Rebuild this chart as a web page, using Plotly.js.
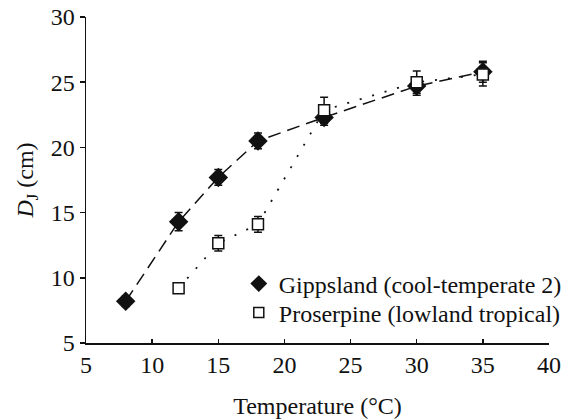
<!DOCTYPE html>
<html><head><meta charset="utf-8">
<script src="https://cdn.plot.ly/plotly-3.0.1.min.js"></script>
<style>html,body{margin:0;padding:0;background:#fff}#chart{width:571px;height:419px}</style>
</head><body><div id="chart"></div>
<script>
const gippX = [8, 12, 15, 18, 23, 30, 35];
const gippY = [8.2, 14.3, 17.7, 20.5, 22.3, 24.7, 25.8];
const gippErr = [0.4, 0.7, 0.6, 0.6, 0.6, 0.7, 0.8];
const prosX = [12, 15, 18, 23, 30, 35];
const prosY = [9.2, 12.65, 14.1, 22.85, 25.0, 25.6];
const prosErr = [0.3, 0.6, 0.6, 1.0, 0.85, 0.9];
const gippName = 'Gippsland (cool-temperate 2)';
const prosName = 'Proserpine (lowland tropical)';

const FONT = 'Liberation Serif, Times New Roman, serif';
const FS = 24;
const traces = [
  {x: gippX, y: gippY, type: 'scatter', mode: 'lines+markers', showlegend: false,
   line: {color: '#111', width: 1.5, dash: '13px,7px'},
   marker: {symbol: 'diamond', size: 15, color: '#111'},
   error_y: {type: 'data', array: gippErr, visible: true, color: '#111', thickness: 1.5, width: 4}},
  {x: prosX, y: prosY, type: 'scatter', mode: 'lines+markers', showlegend: false,
   line: {color: '#111', width: 1.8, dash: '2px,11px'},
   marker: {symbol: 'square', size: 11, color: '#fff', line: {color: '#111', width: 1.5}},
   error_y: {type: 'data', array: prosErr, visible: true, color: '#111', thickness: 1.5, width: 4}},
  {x: [null], y: [null], type: 'scatter', mode: 'markers', name: gippName, legend: 'legend',
   marker: {symbol: 'diamond', size: 13, color: '#111'}},
  {x: [null], y: [null], type: 'scatter', mode: 'markers', name: prosName, legend: 'legend2',
   marker: {symbol: 'square', size: 10, color: '#fff', line: {color: '#111', width: 1.5}}}
];
const legBase = {xanchor: 'left', yanchor: 'middle', bgcolor: 'rgba(0,0,0,0)',
  font: {family: FONT, size: FS, color: '#111'}, itemwidth: 30, borderwidth: 0};
const layout = {
  width: 571, height: 419,
  margin: {l: 86, r: 22, t: 17, b: 76, autoexpand: false},
  paper_bgcolor: '#fff', plot_bgcolor: '#fff',
  font: {family: FONT, size: FS, color: '#111'},
  showlegend: true,
  legend: Object.assign({}, legBase, {x: 0.33, y: (343 - 284) / 326}),
  legend2: Object.assign({}, legBase, {x: 0.33, y: (343 - 313) / 326}),
  xaxis: {range: [5, 40], tick0: 5, dtick: 5, showgrid: false, zeroline: false, automargin: false,
          showline: true, linecolor: '#111', linewidth: 1.5, ticks: 'inside', ticklen: 4,
          tickcolor: '#111', tickwidth: 1.5, tickfont: {family: FONT, size: FS, color: '#111'},
          title: {text: 'Temperature (°C)', font: {family: FONT, size: FS, color: '#111'}, standoff: 20}},
  yaxis: {range: [5, 30], tick0: 5, dtick: 5, showgrid: false, zeroline: false, automargin: false,
          showline: true, linecolor: '#111', linewidth: 1.5, ticks: 'outside', ticklen: 5,
          tickcolor: '#111', tickwidth: 1.5, tickfont: {family: FONT, size: FS, color: '#111'},
          title: {text: '<i>D</i><sub>J</sub> (cm)', font: {family: FONT, size: FS, color: '#111'}, standoff: 10}}
};
Plotly.newPlot('chart', traces, layout, {displayModeBar: false, staticPlot: true});
</script></body></html>
